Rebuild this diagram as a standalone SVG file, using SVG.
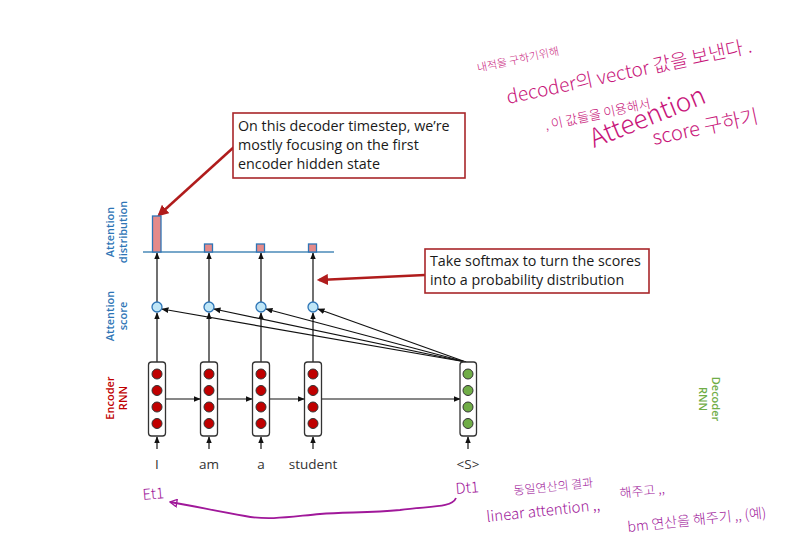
<svg xmlns="http://www.w3.org/2000/svg" width="810" height="544" viewBox="0 0 810 544">
<defs>
<style>
.lbl{font-family:"Open Sans","Liberation Sans",sans-serif;font-weight:600;font-size:11px;text-anchor:middle}
.word{font-family:"Open Sans","Liberation Sans",sans-serif;font-size:13.5px;fill:#333;text-anchor:middle}
.note{font-family:"Open Sans","Liberation Sans",sans-serif;font-size:14.3px;fill:#1a1a1a}
.box{fill:#fff;stroke:#333;stroke-width:1.3}
.enc{fill:#c00000;stroke:#333;stroke-width:1}
.dec{fill:#70ad47;stroke:#333;stroke-width:1}
.score{fill:#bfe6f7;stroke:#2e75b6;stroke-width:1.3}
.bar{fill:#e48a8a;stroke:#2e75b6;stroke-width:1.3}
.arr{stroke:#111;stroke-width:1.2;fill:none;marker-end:url(#ah)}
.red{stroke:#b01c1c;stroke-width:2.5;fill:none;marker-end:url(#rh)}
.callout{fill:#fff;stroke:#a8262a;stroke-width:1.6}
.hw{font-family:"Noto Sans CJK KR",sans-serif;fill:#c8157a;font-weight:300}
.hw2{font-family:"Noto Sans CJK KR",sans-serif;fill:#a0189a;font-weight:300}
</style>
<marker id="ah" viewBox="0 0 10 10" refX="9" refY="5" markerWidth="6" markerHeight="6" orient="auto"><path d="M0,1 L10,5 L0,9 z" fill="#111"/></marker>
<marker id="rh" viewBox="0 0 10 10" refX="8" refY="5" markerWidth="4.5" markerHeight="4.5" orient="auto"><path d="M0,0 L10,5 L0,10 z" fill="#b01c1c"/></marker>
<marker id="ph" viewBox="0 0 12 12" refX="10" refY="6" markerWidth="9" markerHeight="9" markerUnits="userSpaceOnUse" orient="auto"><path d="M1,1 L10,6 L1,11 z" fill="none" stroke="#a0189a" stroke-width="1.8"/></marker>
</defs>
<rect width="810" height="544" fill="#fff"/>

<g id="labels">
<text class="lbl" fill="#2e75b6" transform="translate(114,232) rotate(-90)">Attention</text>
<text class="lbl" fill="#2e75b6" transform="translate(127,232) rotate(-90)">distribution</text>
<text class="lbl" fill="#2e75b6" transform="translate(114,316) rotate(-90)">Attention</text>
<text class="lbl" fill="#2e75b6" transform="translate(127,316) rotate(-90)">score</text>
<text class="lbl" fill="#c00000" transform="translate(114,398) rotate(-90)">Encoder</text>
<text class="lbl" fill="#c00000" transform="translate(127,398) rotate(-90)">RNN</text>
<text class="lbl" fill="#70ad47" transform="translate(712,399) rotate(90)">Decoder</text>
<text class="lbl" fill="#70ad47" transform="translate(699,399) rotate(90)">RNN</text>
</g>

<g id="connectors">
<line class="arr" x1="157" y1="449" x2="157" y2="437"/>
<line class="arr" x1="209" y1="449" x2="209" y2="437"/>
<line class="arr" x1="261" y1="449" x2="261" y2="437"/>
<line class="arr" x1="313" y1="449" x2="313" y2="437"/>
<line class="arr" x1="468" y1="449" x2="468" y2="437"/>
<line class="arr" x1="165" y1="399" x2="200" y2="399"/>
<line class="arr" x1="217" y1="399" x2="252" y2="399"/>
<line class="arr" x1="269" y1="399" x2="304" y2="399"/>
<line class="arr" x1="321" y1="399" x2="460" y2="399"/>
<line class="arr" x1="157" y1="362" x2="157" y2="313"/>
<line class="arr" x1="209" y1="362" x2="209" y2="313"/>
<line class="arr" x1="261" y1="362" x2="261" y2="313"/>
<line class="arr" x1="313" y1="362" x2="313" y2="313"/>
<line class="arr" x1="157" y1="302" x2="157" y2="253"/>
<line class="arr" x1="209" y1="302" x2="209" y2="253"/>
<line class="arr" x1="261" y1="302" x2="261" y2="253"/>
<line class="arr" x1="313" y1="302" x2="313" y2="253"/>
<line class="arr" x1="466" y1="362" x2="162" y2="309"/>
<line class="arr" x1="466" y1="362" x2="214" y2="309"/>
<line class="arr" x1="466" y1="362" x2="266" y2="309"/>
<line class="arr" x1="466" y1="362" x2="318" y2="309"/>
<line class="red" x1="234" y1="147" x2="159" y2="215"/>
<line class="red" x1="425" y1="275" x2="319" y2="280"/>
</g>

<g id="distribution">
<line x1="143" y1="252" x2="334" y2="252" stroke="#4a8ab8" stroke-width="1.6"/>
<rect class="bar" x="152.5" y="216" width="8.5" height="36"/>
<rect class="bar" x="204.5" y="244" width="8" height="8"/>
<rect class="bar" x="256.5" y="244" width="8" height="8"/>
<rect class="bar" x="308.5" y="244" width="8" height="8"/>
</g>

<g id="scores">
<circle class="score" cx="157" cy="307" r="5"/>
<circle class="score" cx="209" cy="307" r="5"/>
<circle class="score" cx="261" cy="307" r="5"/>
<circle class="score" cx="313" cy="307" r="5"/>
</g>

<g id="enc1">
<rect class="box" x="148.5" y="362" width="17" height="74" rx="3"/>
<circle class="enc" cx="157" cy="374" r="5"/><circle class="enc" cx="157" cy="390.5" r="5"/><circle class="enc" cx="157" cy="407" r="5"/><circle class="enc" cx="157" cy="423.5" r="5"/>
</g>
<g id="enc2">
<rect class="box" x="200.5" y="362" width="17" height="74" rx="3"/>
<circle class="enc" cx="209" cy="374" r="5"/><circle class="enc" cx="209" cy="390.5" r="5"/><circle class="enc" cx="209" cy="407" r="5"/><circle class="enc" cx="209" cy="423.5" r="5"/>
</g>
<g id="enc3">
<rect class="box" x="252.5" y="362" width="17" height="74" rx="3"/>
<circle class="enc" cx="261" cy="374" r="5"/><circle class="enc" cx="261" cy="390.5" r="5"/><circle class="enc" cx="261" cy="407" r="5"/><circle class="enc" cx="261" cy="423.5" r="5"/>
</g>
<g id="enc4">
<rect class="box" x="304.5" y="362" width="17" height="74" rx="3"/>
<circle class="enc" cx="313" cy="374" r="5"/><circle class="enc" cx="313" cy="390.5" r="5"/><circle class="enc" cx="313" cy="407" r="5"/><circle class="enc" cx="313" cy="423.5" r="5"/>
</g>
<g id="dec1">
<rect class="box" x="460" y="362" width="16.5" height="74" rx="3"/>
<circle class="dec" cx="468" cy="374" r="5"/><circle class="dec" cx="468" cy="390.5" r="5"/><circle class="dec" cx="468" cy="407" r="5"/><circle class="dec" cx="468" cy="423.5" r="5"/>
</g>

<g id="words">
<text class="word" x="157" y="469">I</text>
<text class="word" x="209" y="469">am</text>
<text class="word" x="261" y="469">a</text>
<text class="word" x="313" y="469">student</text>
<text class="word" x="468" y="469">&lt;S&gt;</text>
</g>

<g id="callout1">
<rect class="callout" x="233" y="113" width="232" height="65"/>
<text class="note" x="238" y="131">On this decoder timestep, we’re</text>
<text class="note" x="238" y="150">mostly focusing on the first</text>
<text class="note" x="238" y="169">encoder hidden state</text>
</g>
<g id="callout2">
<rect class="callout" x="425" y="249" width="224" height="44"/>
<text class="note" x="430" y="266">Take softmax to turn the scores</text>
<text class="note" x="430" y="285">into a probability distribution</text>
</g>

<g id="handwriting">
<text class="hw" font-size="11" transform="translate(478,72) rotate(-12)">내적을 구하기위해</text>
<text class="hw" font-size="19" transform="translate(508,104) rotate(-12)">decoder의 vector 값을 보낸다 .</text>
<text class="hw" font-size="13" transform="translate(546,130) rotate(-12)">, 이 값들을 이용해서</text>
<text class="hw" font-size="26" transform="translate(594,148) rotate(-22)">Atteention</text>
<text class="hw" font-size="20" transform="translate(654,145) rotate(-12)">score 구하기</text>
<text class="hw2" font-size="15" transform="translate(143,500) rotate(-5)">Et1</text>
<text class="hw2" font-size="15" transform="translate(456,494) rotate(-5)">Dt1</text>
<path d="M456,498 C452,508 430,506 400,510 C370,513 345,512 320,514 C295,516 270,521 245,516 C215,511 195,506 170,502" stroke="#a0189a" stroke-width="1.8" fill="none" marker-end="url(#ph)"/>
<text class="hw2" font-size="12" transform="translate(514,495) rotate(-6)">동일연산의 결과</text>
<text class="hw2" font-size="15" transform="translate(487,522) rotate(-6)">linear attention ,,</text>
<text class="hw2" font-size="13" transform="translate(620,498) rotate(-6)">해주고 ,,</text>
<text class="hw2" font-size="14" transform="translate(628,532) rotate(-6)">bm 연산을 해주기 ,, (예)</text>
</g>
</svg>
